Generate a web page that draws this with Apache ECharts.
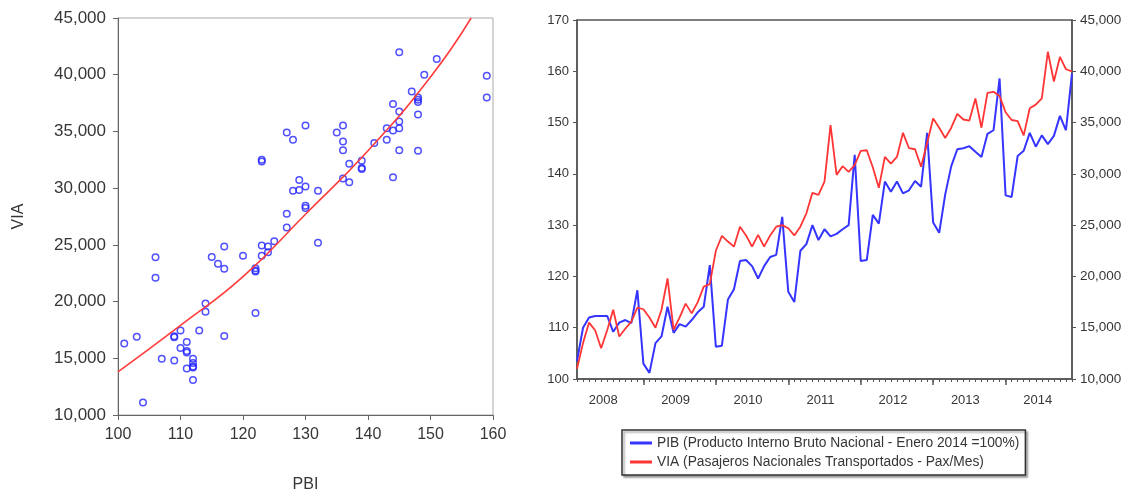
<!DOCTYPE html>
<html>
<head>
<meta charset="utf-8">
<title>PBI vs VIA</title>
<script src="https://cdn.jsdelivr.net/npm/echarts@6/dist/echarts.min.js"></script>
<style>
  html, body { margin: 0; padding: 0; background: #fff; }
  #chart { width: 1133px; height: 493px; }
</style>
</head>
<body>
<div id="chart"></div>
<script>
// Scatter: PBI (x) against VIA (y)
const scatterPbi = [101, 103, 104, 106, 106, 107, 109, 109, 109, 110, 110, 111, 111, 111, 111,
  112, 112, 112, 112, 112, 113, 114, 114, 115, 116, 117, 117, 117, 120, 122, 122, 122, 122,
  123, 123, 123, 123, 124, 124, 125, 127, 127, 127, 128, 128, 129, 129, 130, 130, 130, 130,
  132, 132, 135, 136, 136, 136, 136, 137, 137, 139, 139, 139, 141, 143, 143, 144, 144, 144,
  145, 145, 145, 145, 145, 147, 148, 148, 148, 148, 148, 149, 151, 159, 159];
const scatterVia = [16300, 16900, 11100, 23900, 22100, 14950, 16950, 16850, 14800, 17450, 15900, 16430, 15650, 15500, 14100,
  14950, 14580, 14280, 14180, 13080, 17450, 19830, 19100, 23925, 23340, 24860, 22890, 16960, 24040, 22940, 22740, 22650, 18990,
  32500, 32350, 24940, 24030, 24850, 24350, 25320, 34910, 27740, 26530, 34260, 29770, 30710, 29830, 35530, 30150, 28440, 28240,
  29770, 25180, 34910, 35530, 34120, 33350, 30850, 32150, 30530, 32410, 31770, 31680, 33970, 35290, 34260, 37410, 35090, 30970,
  41970, 36760, 35880, 35290, 33350, 38530, 38000, 37800, 37590, 36500, 33290, 40000, 41380, 39910, 38000];

// Fitted curve, sampled from the red line
const fitPbi = [100, 110, 120, 130, 140, 150, 156.5];
const fitVia = [13800, 17900, 22200, 27700, 33300, 39800, 45000];

// Monthly series, Feb 2008 - Dec 2014
const pib = [
  103.5, 110, 112, 112.3, 112.3, 112.3, 109.2, 111, 111.5, 110.9, 117.3,
  103, 101.2, 107, 108.3, 114.1, 109, 110.7, 110.2, 111.5, 113, 114.1, 122.2,
  106.3, 106.5, 115.5, 117.5, 123, 123.2, 122, 119.6, 122, 123.8, 124.2, 131.6,
  117, 115, 125, 126.3, 130, 127.1, 129.2, 127.8, 128.3, 129.2, 130, 143.7,
  123, 123.2, 132, 130.3, 138.5, 136.5, 138.5, 136.2, 136.8, 138.6, 137.5, 148,
  130.5, 128.5, 136, 141.5, 144.8, 145, 145.4, 144.3, 143.3, 147.8, 148.5, 158.6,
  135.8, 135.5, 143.5, 144.5, 148, 145.3, 147.5, 145.8, 147.4, 151.3, 148.5, 159.6
];
const via = [
  11000, 13500, 15500, 14750, 13000, 14750, 16750, 14150, 14900, 15600, 16950,
  16800, 16000, 15000, 16750, 19800, 14800, 16000, 17350, 16400, 17500, 19000, 19250,
  22500, 23950, 23400, 22900, 24850, 24000, 22900, 24050, 22900, 24000, 24850, 25000,
  24700, 24000, 24850, 26150, 28150, 27950, 29250, 34750, 29900, 30750, 30200, 30850,
  32250, 32300, 30650, 28650, 31650, 31000, 31650, 34000, 32500, 32400, 30700, 33000,
  35400, 34500, 33500, 34500, 35850, 35300, 35200, 37350, 34500, 37900, 38000, 37600,
  36000, 35250, 35150, 33750, 36400, 36750, 37350, 41900, 39000, 41400, 40200, 40000
];

const firstYear = 2008, firstMonth = 2, lastYear = 2014;
const months = [];
for (let y = firstYear; y <= lastYear; y++) {
  for (let m = (y === firstYear ? firstMonth : 1); m <= 12; m++) {
    months.push(y + '-' + (m < 10 ? '0' + m : m));
  }
}

const pibName = 'PIB (Producto Interno Bruto Nacional - Enero 2014 =100%)';
const viaName = 'VIA (Pasajeros Nacionales Transportados - Pax/Mes)';

const textColor = '#363636';
const fontFamily = 'Liberation Sans, Arial, sans-serif';
const fmt = v => v.toLocaleString('en-US');

const myChart = echarts.init(document.getElementById('chart'));

const option = {
  animation: false,
  textStyle: { fontFamily: fontFamily },
  grid: [
    { left: 118, top: 18, width: 375, height: 397, outerBoundsMode: 'none', show: true, borderColor: '#aaa', borderWidth: 1 },
    { left: 577, top: 20, width: 495, height: 359, outerBoundsMode: 'none', show: true, borderColor: '#555', borderWidth: 1.5 }
  ],
  xAxis: [
    {
      type: 'value', gridIndex: 0, min: 100, max: 160, interval: 10,
      name: 'PBI', nameLocation: 'middle', nameGap: 62,
      nameTextStyle: { fontSize: 16, color: textColor },
      axisLine: { lineStyle: { color: '#666' } },
      axisTick: { show: true, length: 5, lineStyle: { color: '#666' } },
      axisLabel: { fontSize: 16, color: textColor, margin: 12 },
      splitLine: { show: false }
    },
    {
      type: 'category', gridIndex: 1, data: months, boundaryGap: false,
      axisLine: { lineStyle: { color: '#555', width: 1.5 } },
      axisTick: { show: true, interval: 0, length: 3, lineStyle: { color: '#555' } },
      axisLabel: {
        fontSize: 13, color: textColor, margin: 15, padding: [0, 0, 0, 4],
        interval: (i, v) => v.slice(5) === '06',
        formatter: v => v.slice(0, 4)
      },
      splitLine: { show: false }
    },
    {
      type: 'category', gridIndex: 1, data: months, boundaryGap: false, position: 'bottom',
      axisLine: { show: false },
      axisTick: { show: true, length: 6, interval: (i, v) => v.slice(5) === '01', lineStyle: { color: '#555', width: 1.5 } },
      axisLabel: { show: false },
      splitLine: { show: false }
    }
  ],
  yAxis: [
    {
      type: 'value', gridIndex: 0, min: 10000, max: 45000, interval: 5000,
      name: 'VIA', nameLocation: 'middle', nameGap: 91, nameRotate: 90,
      nameTextStyle: { fontSize: 16, color: textColor },
      axisLine: { show: true, lineStyle: { color: '#666' } },
      axisTick: { show: true, length: 5, lineStyle: { color: '#666' } },
      axisLabel: { fontSize: 17, color: textColor, margin: 12, formatter: fmt },
      splitLine: { show: false }
    },
    {
      type: 'value', gridIndex: 1, min: 100, max: 170, interval: 10, position: 'left',
      axisLine: { show: true, lineStyle: { color: '#555', width: 1.5 } },
      axisTick: { show: true, length: 4, lineStyle: { color: '#555' } },
      axisLabel: { fontSize: 13, color: textColor, margin: 8 },
      splitLine: { show: false }
    },
    {
      type: 'value', gridIndex: 1, min: 10000, max: 45000, interval: 5000, position: 'right',
      axisLine: { show: true, lineStyle: { color: '#555', width: 1.5 } },
      axisTick: { show: true, length: 4, lineStyle: { color: '#555' } },
      axisLabel: { fontSize: 13.5, color: textColor, margin: 8, formatter: fmt },
      splitLine: { show: false }
    }
  ],
  legend: {
    data: [pibName, viaName],
    orient: 'vertical',
    left: 622, top: 430,
    icon: 'rect', itemWidth: 22, itemHeight: 3, itemGap: 5,
    padding: [6, 6, 6, 8],
    borderColor: '#333', borderWidth: 1.5,
    shadowColor: 'rgba(0,0,0,0.35)', shadowBlur: 2, shadowOffsetX: 2, shadowOffsetY: 2,
    backgroundColor: '#fff',
    textStyle: { fontSize: 13.8, color: textColor }
  },
  series: [
    {
      name: 'scatter', type: 'scatter', xAxisIndex: 0, yAxisIndex: 0,
      symbol: 'circle', symbolSize: 6.5,
      itemStyle: { color: 'rgba(0,0,0,0)', borderColor: '#2424ff', borderWidth: 1.5 },
      data: scatterPbi.map((x, i) => [x, scatterVia[i]])
    },
    {
      name: 'fit', type: 'line', xAxisIndex: 0, yAxisIndex: 0,
      smooth: true, showSymbol: false, symbol: 'none',
      lineStyle: { color: '#ff3b3b', width: 1.6 },
      data: fitPbi.map((x, i) => [x, fitVia[i]])
    },
    {
      name: pibName, type: 'line', xAxisIndex: 1, yAxisIndex: 1,
      symbol: 'none', color: '#3535ff',
      lineStyle: { color: '#3535ff', width: 2 },
      data: pib
    },
    {
      name: viaName, type: 'line', xAxisIndex: 1, yAxisIndex: 2,
      symbol: 'none', color: '#ff3535',
      lineStyle: { color: '#ff3535', width: 1.8 },
      data: via
    }
  ]
};

option && myChart.setOption(option);
</script>
</body>
</html>
